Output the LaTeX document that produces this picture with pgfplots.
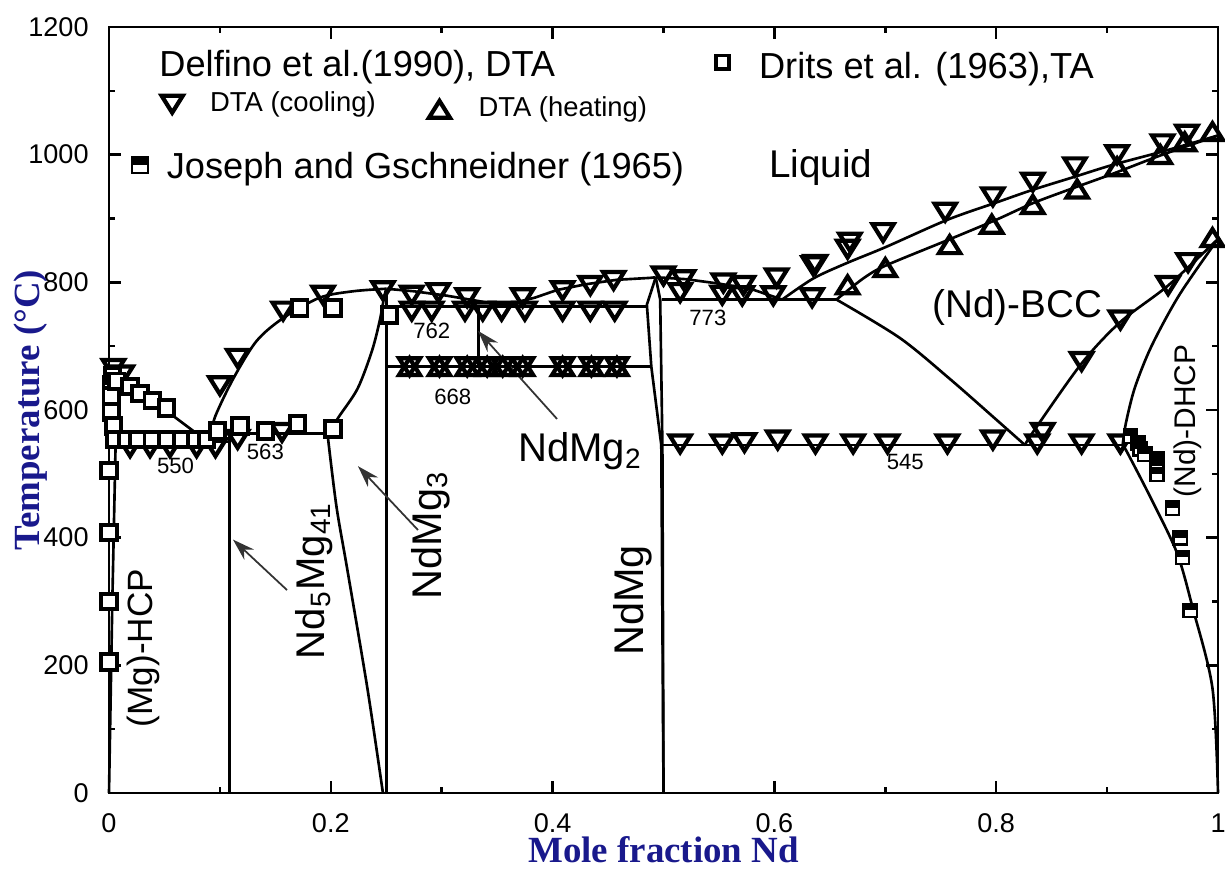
\documentclass[border=0pt]{standalone}
\usepackage{fontspec}
\setmainfont{Liberation Sans}
\newfontfamily\serifb{Liberation Serif}
\usepackage{pgfplots}
\pgfplotsset{compat=1.18}
\usetikzlibrary{arrows.meta}
\definecolor{labblue}{RGB}{25,25,140}
\newcommand\fs[1]{\fontsize{#1}{#1}\selectfont}

% open triangles, down (cooling) and up (heating)
\pgfdeclareplotmark{dtri}{%
  \pgfpathmoveto{\pgfqpoint{-\pgfplotmarksize}{0.8\pgfplotmarksize}}%
  \pgfpathlineto{\pgfqpoint{\pgfplotmarksize}{0.8\pgfplotmarksize}}%
  \pgfpathlineto{\pgfqpoint{0pt}{-0.8\pgfplotmarksize}}%
  \pgfpathclose\pgfusepathqstroke}
\pgfdeclareplotmark{utri}{%
  \pgfpathmoveto{\pgfqpoint{-\pgfplotmarksize}{-0.8\pgfplotmarksize}}%
  \pgfpathlineto{\pgfqpoint{\pgfplotmarksize}{-0.8\pgfplotmarksize}}%
  \pgfpathlineto{\pgfqpoint{0pt}{0.8\pgfplotmarksize}}%
  \pgfpathclose\pgfusepathqstroke}
% square, upper half black
\pgfdeclareplotmark{halfsq}{%
  \pgfsetfillcolor{white}%
  \pgfpathrectangle{\pgfqpoint{-\pgfplotmarksize}{-\pgfplotmarksize}}{\pgfqpoint{2\pgfplotmarksize}{2\pgfplotmarksize}}%
  \pgfusepathqfillstroke
  \pgfsetfillcolor{black}%
  \pgfpathrectangle{\pgfqpoint{-\pgfplotmarksize}{0pt}}{\pgfqpoint{2\pgfplotmarksize}{\pgfplotmarksize}}%
  \pgfusepathqfill}

\begin{document}
\begin{tikzpicture}
\begin{axis}[
  width=110.9mm, height=76.6mm, scale only axis,
  xmin=0, xmax=1, ymin=0, ymax=1200,
  xtick={0,0.2,0.4,0.6,0.8,1}, ytick={0,200,...,1200},
  minor x tick num=1, minor y tick num=1,
  tick align=inside, major tick length=1.2mm, minor tick length=0.6mm,
  axis line style={line width=0.7pt},
  every tick/.style={black, line width=0.7pt},
  ticklabel style={font=\fs{7.7}},
  /pgf/number format/assume math mode=true,
  /pgf/number format/1000 sep={},
  xticklabel style={yshift=-0.8mm},
  yticklabel style={xshift=-0.8mm},
  xlabel={\serifb\bfseries\fs{10.5}Mole fraction Nd},
  ylabel={\serifb\bfseries\fs{10.5}Temperature (°C)},
  xlabel style={text=labblue, at={(axis description cs:0.5,-0.074)}, anchor=center},
  ylabel style={text=labblue, at={(axis description cs:-0.071,0.5)}, anchor=center},
  clip=false,
  bnd/.style={black, line width=0.75pt, no markers},
  cool/.style={only marks, mark=dtri, mark size=3pt, mark options={line width=1.2pt}},
  heat/.style={only marks, mark=utri, mark size=3pt, mark options={line width=1.2pt}},
  drits/.style={only marks, mark=square*, mark size=2.2pt, mark options={fill=white, draw=black, line width=1.1pt}},
  joseph/.style={only marks, mark=halfsq, mark size=1.9pt, mark options={line width=0.7pt}},
]
% ---- phase boundaries
\addplot[bnd] coordinates {(0,650) (0.02,632) (0.04,612) (0.06,588) (0.08,562) (0.09,552)};
\addplot[bnd] coordinates {(0.004,550) (0.1087,550)};
\addplot[bnd] coordinates {(0.092,563) (0.2,563)};
\addplot[bnd] coordinates {(0.1087,0) (0.1087,563)};
\addplot[bnd, smooth] coordinates {(0.092,563) (0.096,591) (0.112,649) (0.133,708) (0.157,744) (0.19,776) (0.22,786) (0.25,790)};
\addplot[bnd] coordinates {(0.25,790) (0.275,786) (0.305,779) (0.332,771) (0.355,764) (0.37,770) (0.384,776) (0.404,788) (0.43,797) (0.458,804) (0.488,807) (0.493,808)};
\addplot[bnd] coordinates {(0.25,0) (0.25,790)};
\addplot[bnd, smooth] coordinates {(0.197,563) (0.205,450) (0.215,349) (0.233,164) (0.247,0)};
\addplot[bnd, smooth] coordinates {(0.2,563) (0.206,586) (0.224,633) (0.237,692) (0.244,739) (0.248,776) (0.25,790)};
\addplot[bnd] coordinates {(0.25,762) (0.485,762)};
\addplot[bnd] coordinates {(0.25,668) (0.489,668)};
\addplot[bnd] coordinates {(0.3333,668) (0.3333,762)};
\addplot[bnd] coordinates {(0.493,808) (0.485,765) (0.489,668) (0.498,545) (0.5,0)};
\addplot[bnd] coordinates {(0.493,808) (0.497,773) (0.499,545) (0.5,0)};
\addplot[bnd] coordinates {(0.499,773) (0.656,773)};
\addplot[bnd] coordinates {(0.493,808) (0.52,805) (0.55,798) (0.58,789) (0.607,773)};
\addplot[bnd, smooth] coordinates {(0.607,773) (0.635,806) (0.665,830) (0.7,855) (0.756,898) (0.8,925) (0.833,945) (0.87,965) (0.905,984) (0.95,1005) (1,1030)};
\addplot[bnd, smooth] coordinates {(0.656,773) (0.68,806) (0.70,826) (0.756,866) (0.80,898) (0.833,924) (0.87,948) (0.905,970) (0.95,1000) (1,1030)};
\addplot[bnd, smooth] coordinates {(0.656,773) (0.713,713) (0.758,649) (0.8,585) (0.826,545)};
\addplot[bnd] coordinates {(0.499,545) (0.914,545)};
\addplot[bnd, smooth] coordinates {(0.826,545) (0.833,565) (0.877,673) (0.912,738) (0.955,795) (1,868)};
\addplot[bnd, smooth] coordinates {(0.914,545) (0.917,580) (0.925,635) (0.94,700) (0.965,780) (1,868)};
\addplot[bnd, smooth] coordinates {(0.914,545) (0.918,534) (0.94,460) (0.963,376) (0.977,291) (0.995,164) (1,0)};
\addplot[bnd] coordinates {(0,0) (0.003,300) (0.006,550)};
% ---- Delfino et al. (1990), DTA cooling
\addplot[cool] coordinates {
  (0.004,665) (0.012,655)
  (0.019,541) (0.037,541) (0.055,541) (0.079,541) (0.096,541)
  (0.100,638) (0.116,681) (0.157,755) (0.193,780) (0.247,787)
  (0.116,554) (0.156,565)
  (0.273,780) (0.297,784) (0.323,776) (0.373,776) (0.409,787) (0.434,795) (0.455,803) (0.500,810)
  (0.273,755) (0.291,755) (0.321,755) (0.337,755) (0.354,755) (0.375,755) (0.409,755) (0.434,755) (0.456,755)
  (0.271,668) (0.298,668) (0.323,668) (0.341,668) (0.355,668) (0.373,668) (0.409,668) (0.435,668) (0.458,668)
  (0.518,804) (0.554,799) (0.572,795) (0.602,807) (0.635,826) (0.666,852)
  (0.515,784) (0.553,780) (0.571,779) (0.599,779) (0.634,776)
  (0.515,547) (0.553,547) (0.573,549) (0.603,553) (0.637,547) (0.671,547) (0.702,547)
  (0.756,547) (0.797,553) (0.837,547) (0.842,565) (0.877,547) (0.912,547)
  (0.637,828) (0.668,863) (0.698,878) (0.754,910) (0.797,934) (0.833,957) (0.871,981) (0.909,1000) (0.950,1017) (0.972,1032)
  (0.877,676) (0.912,741) (0.955,795) (0.973,831)
};
% ---- DTA heating
\addplot[heat] coordinates {
  (0.271,668) (0.298,668) (0.323,668) (0.341,668) (0.355,668) (0.373,668) (0.409,668) (0.435,668) (0.458,668)
  (0.666,796) (0.70,823) (0.758,859) (0.796,891) (0.833,922) (0.873,946) (0.909,981) (0.948,1000) (0.970,1020) (0.995,1036)
  (0.995,870)
};
% ---- Drits et al. (1963), TA
\addplot[drits] coordinates {
  (0,205) (0,300) (0,408) (0,505)
  (0.002,640) (0.002,622) (0.002,597) (0.004,575)
  (0.003,654) (0.007,645) (0.019,637) (0.028,626) (0.039,615) (0.052,603)
  (0.005,554) (0.016,554) (0.026,554) (0.039,554) (0.052,554) (0.066,554) (0.078,554) (0.088,554)
  (0.098,567) (0.118,575) (0.141,567) (0.170,578) (0.202,570)
  (0.172,760) (0.202,760) (0.253,749)
};
% ---- Joseph and Gschneidner (1965)
\addplot[joseph] coordinates {
  (0.921,559) (0.928,548) (0.930,539) (0.934,531) (0.945,523) (0.945,512) (0.945,499)
  (0.959,446) (0.966,400) (0.968,369) (0.975,286)
};
% ---- key marks
\addplot[cool] coordinates {(0.057,1079)};
\addplot[heat] coordinates {(0.298,1071)};
\addplot[drits, mark size=1.9pt] coordinates {(0.553,1145)};
\addplot[joseph, mark size=2.3pt] coordinates {(0.028,984)};

% ---- texts
\node[anchor=base west, font=\fs{10.3}] at (axis cs:0.0343,1123) {Delfino et al.(1990), DTA};
\node[anchor=base west, font=\fs{7.8}] at (axis cs:0.080,1068) {DTA (cooling)};
\node[anchor=base west, font=\fs{7.8}] at (axis cs:0.322,1060) {DTA (heating)};
\node[anchor=base west, font=\fs{10.3}] at (axis cs:0.575,1120) {Drits et al. (1963),TA};
\node[anchor=base west, font=\fs{10.3}] at (axis cs:0.041,962) {Joseph and Gschneidner (1965)};
\node[anchor=base west, font=\fs{11}] at (axis cs:0.584,965) {Liquid};
\node[font=\fs{11}] at (axis cs:0.819,760) {(Nd)-BCC};
\node[font=\fs{8.5}, rotate=90] at (axis cs:0.973,583) {(Nd)-DHCP};
\node[font=\fs{10}, rotate=90] at (axis cs:0.031,227) {(Mg)-HCP};
\node[font=\fs{11.4}, rotate=90] at (axis cs:0.185,333) {Nd\textsubscript{5}Mg\textsubscript{41}};
\node[font=\fs{11.8}, rotate=90] at (axis cs:0.290,404) {NdMg\textsubscript{3}};
\node[font=\fs{11.8}, rotate=90] at (axis cs:0.472,302) {NdMg};
\node[font=\fs{11.4}] at (axis cs:0.425,535) {NdMg\textsubscript{2}};
\node[font=\fs{6.3}] at (axis cs:0.060,512) {550};
\node[font=\fs{6.3}] at (axis cs:0.141,534) {563};
\node[font=\fs{6.3}] at (axis cs:0.291,724) {762};
\node[font=\fs{6.3}] at (axis cs:0.310,621) {668};
\node[font=\fs{6.3}] at (axis cs:0.540,744) {773};
\node[font=\fs{6.3}] at (axis cs:0.718,518) {545};
% ---- pointers
\draw[black!80, line width=0.5pt, -{Stealth[length=2.2mm,width=1.4mm]}] (axis cs:0.1605,318) -- (axis cs:0.1118,397);
\draw[black!80, line width=0.5pt, -{Stealth[length=2.2mm,width=1.4mm]}] (axis cs:0.2786,412) -- (axis cs:0.2245,512);
\draw[black!80, line width=0.5pt, -{Stealth[length=2.2mm,width=1.4mm]}] (axis cs:0.404,586) -- (axis cs:0.3327,724);
\end{axis}
\pgfresetboundingbox
\path ([xshift=-10.9mm,yshift=-7.8mm]current axis.south west) rectangle ([xshift=0.7mm,yshift=2.7mm]current axis.north east);
\end{tikzpicture}
\end{document}
